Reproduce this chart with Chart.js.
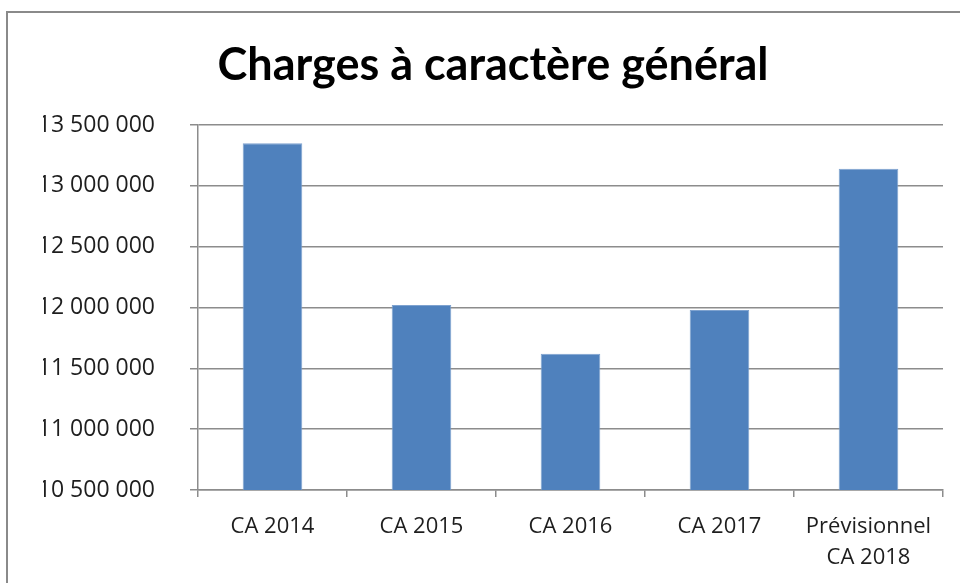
<!DOCTYPE html>
<html lang="fr">
<head>
    <meta charset="UTF-8">
    <title>Charges à caractère général</title>
    <script src="https://cdn.jsdelivr.net/npm/chart.js"></script>
    <style>
        body { margin: 0; background: #fff; overflow: hidden; }
        #frame { position: absolute; left: 6px; top: 11px; width: 1000px; height: 1000px;
                 border-left: 2px solid #8a8a8a; border-top: 2px solid #8a8a8a; }
        #wrap { position: absolute; left: 0; top: 0; width: 960px; height: 583px; }
    </style>
</head>
<body>
    <div id="frame"></div>
    <div id="wrap"><canvas id="Chart"></canvas></div>

    <script>
        // data
        const categories = ['CA 2014', 'CA 2015', 'CA 2016', 'CA 2017', ['Prévisionnel', 'CA 2018']];
        const charges = [13350000, 12020000, 11620000, 11980000, 13140000];
        const yMin = 10500000;
        const yMax = 13500000;
        const yStep = 500000;

        const gridColor = '#8c8c8c';
        const textColor = '#1e1e1e';

        // 13500000 -> "13 500 000"
        function spaced(v) {
            return v.toString().replace(/\B(?=(\d{3})+(?!\d))/g, ' ');
        }

        const ctx = document.getElementById('Chart').getContext('2d');
        const chart = new Chart(ctx, {
            type: 'bar',
            data: {
                labels: categories,
                datasets: [{
                    label: 'Charges',
                    data: charges,
                    backgroundColor: '#4f81bd',
                    borderColor: '#7ea2cf',
                    borderWidth: 1,
                    barPercentage: 0.4,
                    categoryPercentage: 1.0
                }]
            },
            options: {
                responsive: true,
                maintainAspectRatio: false,
                animation: false,
                layout: {
                    padding: { top: 0, left: 43, right: 17, bottom: 0 }
                },
                scales: {
                    x: {
                        offset: true,
                        afterFit: function (scale) { scale.height = 93; },
                        grid: {
                            offset: true,
                            drawOnChartArea: false,
                            color: gridColor,
                            lineWidth: 1.5,
                            tickLength: 7
                        },
                        border: { display: true, color: gridColor, width: 1.5 },
                        ticks: {
                            color: textColor,
                            padding: 14,
                            maxRotation: 0,
                            autoSkip: false,
                            font: { family: '"Open Sans"', size: 22, lineHeight: 1.42 }
                        }
                    },
                    y: {
                        min: yMin,
                        max: yMax,
                        afterFit: function (scale) { scale.width = 155; },
                        grid: { color: gridColor, lineWidth: 1.5, tickLength: 8 },
                        border: { display: true, color: gridColor, width: 1.5 },
                        ticks: {
                            stepSize: yStep,
                            color: textColor,
                            padding: 35,
                            font: { family: '"Open Sans"', size: 23 },
                            callback: function (v) { return spaced(v); }
                        }
                    }
                },
                plugins: {
                    legend: { display: false },
                    tooltip: { enabled: false },
                    title: {
                        display: true,
                        text: 'Charges à caractère général',
                        color: '#000',
                        font: { family: 'Lato', size: 45, weight: 'bold', lineHeight: 1.2 },
                        padding: { top: 38, bottom: 33 }
                    }
                }
            }
        });
    </script>
</body>
</html>
